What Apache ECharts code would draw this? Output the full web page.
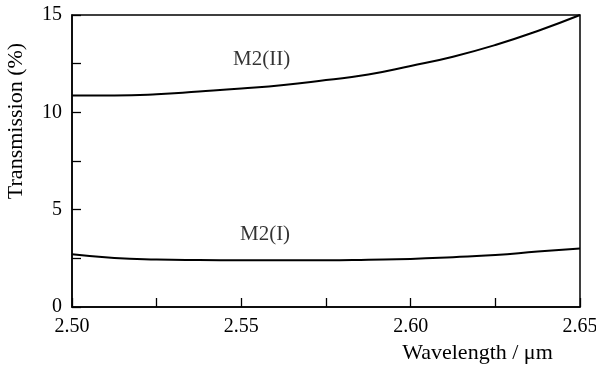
<!DOCTYPE html>
<html>
<head>
<meta charset="utf-8">
<script src="https://cdn.jsdelivr.net/npm/echarts@6/dist/echarts.min.js"></script>
<style>
  html, body { margin: 0; padding: 0; background: #fff; }
  #main { width: 596px; height: 370px; }
</style>
</head>
<body>
<div id="main"></div>
<script>
// 数据
const wavelength = [2.50, 2.5125, 2.525, 2.5375, 2.55, 2.5625, 2.575, 2.5875, 2.60, 2.6125, 2.625, 2.6375, 2.65];
const m2II = [10.87, 10.87, 10.93, 11.07, 11.22, 11.40, 11.66, 11.94, 12.38, 12.86, 13.46, 14.18, 15.0];
const m2I = [2.71, 2.52, 2.44, 2.41, 2.40, 2.40, 2.40, 2.43, 2.47, 2.56, 2.67, 2.85, 3.01];
const curveLabels = [
  { name: "M2(II)", coord: [2.556, 12.69] },
  { name: "M2(I)", coord: [2.557, 3.70] },
];

const font = "Liberation Serif";
const pair = (xs, ys) => xs.map((x, i) => [x, ys[i]]);

const mychart = echarts.init(document.getElementById("main"));

const axisCommon = {
  axisLine: { show: true, lineStyle: { color: "#000", width: 1.5 } },
  axisTick: { show: true, inside: true, length: 9, lineStyle: { color: "#000", width: 1.3 } },
  minorTick: { show: true, splitNumber: 2, length: 9, lineStyle: { color: "#000", width: 1.3 } },
  splitLine: { show: false },
  axisLabel: { color: "#000", fontFamily: font, fontSize: 20 },
};

const option = {
  animation: false,
  grid: {
    left: 72, right: 16, top: 15, bottom: 63,
    outerBoundsMode: "none",
    containLabel: false,
    show: true, borderColor: "#000", borderWidth: 1.5,
  },
  xAxis: Object.assign({}, axisCommon, {
    type: "value",
    min: 2.5, max: 2.65, interval: 0.05,
    axisLabel: Object.assign({}, axisCommon.axisLabel, {
      margin: 10,
      formatter: (v) => v.toFixed(2),
    }),
    name: "Wavelength / \u03bcm",
    nameLocation: "middle",
    nameGap: 34,
    nameTextStyle: { color: "#000", fontFamily: font, fontSize: 22, padding: [0, 0, 0, 303] },
  }),
  yAxis: Object.assign({}, axisCommon, {
    type: "value",
    min: 0, max: 15, interval: 5,
    axisLabel: Object.assign({}, axisCommon.axisLabel, { margin: 10 }),
    name: "Transmission (%)",
    nameLocation: "middle",
    nameGap: 45,
    nameTextStyle: { color: "#000", fontFamily: font, fontSize: 22, padding: [0, 0, 0, 80] },
  }),
  series: [
    {
      name: "M2(II)",
      type: "line",
      smooth: 0.5,
      symbol: "none",
      data: pair(wavelength, m2II),
      lineStyle: { color: "#000", width: 2 },
    },
    {
      name: "M2(I)",
      type: "line",
      smooth: 0.5,
      symbol: "none",
      data: pair(wavelength, m2I),
      lineStyle: { color: "#000", width: 2 },
    },
    {
      // 曲线标注
      type: "scatter",
      symbolSize: 0,
      data: curveLabels.map((d) => ({ value: d.coord, name: d.name })),
      label: {
        show: true,
        position: "inside",
        formatter: (p) => p.name,
        color: "#000",
        fontFamily: font,
        fontSize: 21,
      },
      silent: true,
    },
  ],
};

mychart.setOption(option);
</script>
</body>
</html>
